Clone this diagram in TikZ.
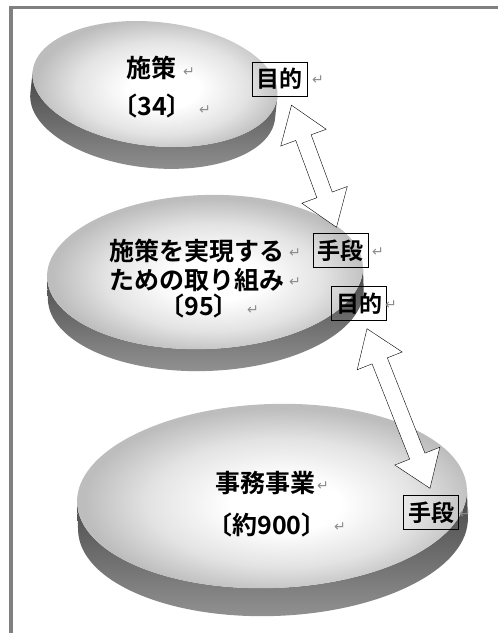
\documentclass[tikz,border=0pt]{standalone}
\usepackage{fontspec}
\newfontfamily\jpfont{Noto Sans CJK JP Bold}
\newfontfamily\retfont{DejaVu Sans}
\usetikzlibrary{calc,shapes.arrows}
\pgfdeclareradialshading{tierface}{\pgfpoint{2bp}{-2bp}}{color(0bp)=(white); color(7bp)=(white); color(17bp)=(gray!22); color(25bp)=(gray!52); color(50bp)=(gray!52)}
\tikzset{
  tierside/.style={top color=gray!55!black, bottom color=gray!85},
  tiertext/.style={font=\jpfont\fontsize{25}{29}\selectfont, align=center, inner sep=0pt},
  tag/.style={draw, thin, font=\jpfont\fontsize{23}{23}\selectfont, text height=20pt, text depth=3pt, inner xsep=4.5pt, inner ysep=5.5pt},
  retmark/.style={font=\retfont\fontsize{14}{14}\selectfont, text=gray!90, inner sep=0pt},
  dblarrow/.style={double arrow, draw, thin, fill=white, inner sep=0pt, inner ysep=8pt, double arrow head extend=16pt, double arrow tip angle=70}
}
\begin{document}
\begin{tikzpicture}[x=1pt,y=-1pt]
        \useasboundingbox (0,0) rectangle (498,633);
        \draw[gray, line width=3.5pt] (498,7.5) -- (11,7.5) -- (11,633);
        \begin{scope}[shift={(155,84)}, rotate=-6]
            \shade[tierside] (-123,0) arc[start angle=180, end angle=0, x radius=123, y radius=62] -- ++(0,22) arc[start angle=0, end angle=180, x radius=123, y radius=62] -- cycle;
            \shade[shading=tierface] (0,0) ellipse[x radius=123, y radius=62];
        \end{scope}
        \begin{scope}[shift={(205,272)}, rotate=2]
            \shade[tierside] (-158,0) arc[start angle=180, end angle=0, x radius=158, y radius=77] -- ++(0,22) arc[start angle=0, end angle=180, x radius=158, y radius=77] -- cycle;
            \shade[shading=tierface] (0,0) ellipse[x radius=158, y radius=77];
        \end{scope}
        \begin{scope}[shift={(272,496)}, rotate=2]
            \shade[tierside] (-195,0) arc[start angle=180, end angle=0, x radius=195, y radius=92] -- ++(0,28) arc[start angle=0, end angle=180, x radius=195, y radius=92] -- cycle;
            \shade[shading=tierface] (0,0) ellipse[x radius=195, y radius=92];
        \end{scope}
        \node[tiertext] (seisaku) at (151,68) {施策};
        \node[tiertext] (seisakunum) at (152,106) {〔34〕};
        \node[tiertext] (torikumi) at (197,265) {施策を実現する\\ための取り組み};
        \node[tiertext] (torikuminum) at (199,306) {〔95〕};
        \node[tiertext] (jimu) at (265,483) {事務事業};
        \node[tiertext] (jimunum) at (267,525) {〔約900〕};
        \node[tag] (mokuteki1) at (279.5,79) {目的};
        \node[tag] (shudan1) at (340.5,250.5) {手段};
        \node[tag] (mokuteki2) at (359,303.5) {目的};
        \node[tag] (shudan2) at (431,512.5) {手段};
        \coordinate (a1) at ($(mokuteki1.south)+(12,9)$);
        \coordinate (b1) at ($(shudan1.north)+(-4,-6)$);
        \coordinate (a2) at ($(mokuteki2.south)+(8,8)$);
        \coordinate (b2) at ($(shudan2.north)+(-1,-7)$);
        \path let \p1=($(b1)-(a1)$) in node[dblarrow, minimum height={veclen(\x1,\y1)}, rotate={atan2(\y1,\x1)}] (arrow1) at ($(a1)!0.5!(b1)$) {};
        \path let \p1=($(b2)-(a2)$) in node[dblarrow, minimum height={veclen(\x1,\y1)}, rotate={atan2(\y1,\x1)}] (arrow2) at ($(a2)!0.5!(b2)$) {};
        \node[retmark] (ret1) at (189,72) {↵};
        \node[retmark] (ret2) at (205,110) {↵};
        \node[retmark] (ret3) at (295,253) {↵};
        \node[retmark] (ret4) at (295,282) {↵};
        \node[retmark] (ret5) at (253,310) {↵};
        \node[retmark] (ret6) at (323,486) {↵};
        \node[retmark] (ret7) at (340,527) {↵};
        \node[retmark] (ret8) at (318,80) {↵};
        \node[retmark] (ret9) at (378,252) {↵};
        \node[retmark] (ret10) at (391,305) {↵};
        \node[retmark] (ret11) at (465,514) {↵};
    \end{tikzpicture}
\end{document}
